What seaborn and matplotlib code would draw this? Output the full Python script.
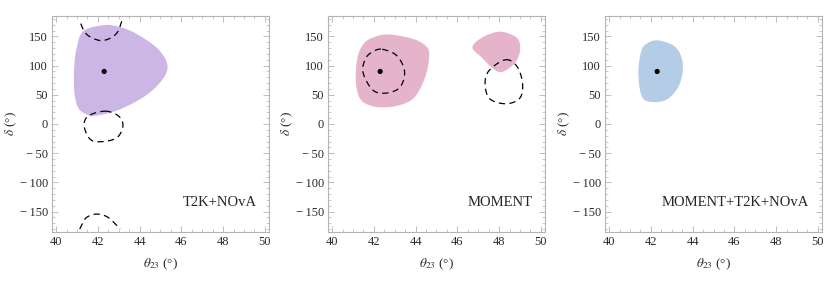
import numpy as np
import seaborn as sns
import matplotlib.pyplot as plt
from matplotlib.ticker import MultipleLocator, FixedLocator

# --- data (theta23 in deg, delta in deg) ---
best_fit_x = [42.3]
best_fit_y = [90]

# T2K+NOvA allowed region (filled) and the dashed contours
t2k_fill_x = [42.2, 41.3, 40.98, 40.86, 40.87, 41.05, 41.4, 41.85, 43.05, 44.49, 45.32, 44.97, 43.85, 42.9]
t2k_fill_y = [169, 159, 130, 95, 55, 28, 17.5, 14, 25, 54, 92, 125, 154.5, 167.5]
t2k_top_x = [41.18, 41.3, 41.55, 42.1, 42.6, 42.95, 43.14]
t2k_top_y = [172, 162, 151, 143, 147, 158, 176]
t2k_mid_x = [42.35, 42.99, 43.2, 42.91, 42.19, 41.63, 41.34, 41.55]
t2k_mid_y = [22, 13.7, -3.4, -23.4, -30.3, -26.2, -3, 14]
t2k_bot_x = [41.13, 41.3, 41.5, 41.85, 42.25, 42.6, 43.07]
t2k_bot_y = [-180, -167, -159, -154.5, -156, -163, -180]

# MOMENT
mom_fill1_x = [42.7, 43.85, 44.45, 44.65, 44.5, 44.0, 43.3, 42.35, 41.6, 41.25, 41.13, 41.22, 41.5, 41.95]
mom_fill1_y = [153.5, 146, 135, 120, 85, 48, 33, 28.5, 35, 50, 80, 115, 137, 148]
mom_fill2_x = [48.13, 48.85, 49.01, 48.77, 48.13, 47.66, 47.18, 46.73, 46.94, 47.5]
mom_fill2_y = [158, 147.7, 127.8, 105, 89, 96.4, 113.5, 129.5, 142, 153.5]
mom_dash1_x = [42.4, 43.1, 43.47, 43.25, 42.6, 41.95, 41.48, 41.6, 41.95]
mom_dash1_y = [128, 117, 90, 63, 53, 58, 88, 112, 124]
mom_dash2_x = [48.3, 48.85, 49.12, 49.01, 48.37, 47.58, 47.33, 47.5]
mom_dash2_y = [110, 99, 70.7, 45, 34.7, 42.3, 66, 90.7]

# MOMENT+T2K+NOvA
comb_fill_x = [42.4, 43.21, 43.53, 43.37, 42.85, 42.2, 41.6, 41.4, 41.54, 41.86]
comb_fill_y = [143, 130.6, 102, 68, 44, 37.6, 45, 85, 125, 139]

panel_labels = ["T2K+NOvA", "MOMENT", "MOMENT+T2K+NOvA"]
fill_colors = ["#CBB6E5", "#E5B4CB", "#B4CCE6"]

x_ticks = [40, 42, 44, 46, 48, 50]
y_ticks = [150, 100, 50, 0, -50, -100, -150]


def spline(x, y, closed=True, n=30):
    # catmull-rom through the read points, so the contours look smooth
    p = np.column_stack([x, y]).astype(float)
    if closed:
        p = np.vstack([p[-1], p, p[0], p[1]])
    else:
        p = np.vstack([p[0], p, p[-1]])
    t = np.linspace(0, 1, n, endpoint=False)[:, None]
    out = []
    for i in range(1, len(p) - 2):
        p0, p1, p2, p3 = p[i - 1], p[i], p[i + 1], p[i + 2]
        out.append(0.5 * (2 * p1 + (-p0 + p2) * t
                          + (2 * p0 - 5 * p1 + 4 * p2 - p3) * t ** 2
                          + (-p0 + 3 * p1 - 3 * p2 + p3) * t ** 3))
    out = np.vstack(out)
    out = np.vstack([out, p[-2]]) if not closed else np.vstack([out, out[0]])
    return out[:, 0], out[:, 1]


sns.set_theme(style="ticks")
plt.rcParams["font.family"] = ["Liberation Serif", "DejaVu Serif"]
plt.rcParams["mathtext.fontset"] = "stix"

fig = plt.figure(figsize=(8.3, 2.85), dpi=100)
lefts = [52, 328, 605]
axes = [fig.add_axes([l / 830, 53 / 285, 217 / 830, 216 / 285]) for l in lefts]

dash = (0, (5, 3.5))
frame_col = "#B4B4B4"


def dashed(ax, x, y, closed=True):
    sx, sy = spline(x, y, closed)
    sns.lineplot(x=sx, y=sy, sort=False, estimator=None, ax=ax,
                 color="black", lw=0.9, linestyle=dash)


# panel 1
ax = axes[0]
fx, fy = spline(t2k_fill_x, t2k_fill_y)
ax.fill(fx, fy, color=fill_colors[0], lw=0)
dashed(ax, t2k_top_x, t2k_top_y, closed=False)
dashed(ax, t2k_mid_x, t2k_mid_y)
dashed(ax, t2k_bot_x, t2k_bot_y, closed=False)

# panel 2
ax = axes[1]
for xs, ys in [(mom_fill1_x, mom_fill1_y), (mom_fill2_x, mom_fill2_y)]:
    fx, fy = spline(xs, ys)
    ax.fill(fx, fy, color=fill_colors[1], lw=0)
dashed(ax, mom_dash1_x, mom_dash1_y)
dashed(ax, mom_dash2_x, mom_dash2_y)

# panel 3
ax = axes[2]
fx, fy = spline(comb_fill_x, comb_fill_y)
ax.fill(fx, fy, color=fill_colors[2], lw=0)

for ax, lab in zip(axes, panel_labels):
    sns.scatterplot(x=best_fit_x, y=best_fit_y, ax=ax, color="black", s=14,
                    edgecolor="none", zorder=5)
    ax.text(49.6, -135, lab, ha="right", va="center", fontsize=10.5)
    ax.set_xlim(39.8, 50.2)
    ax.set_ylim(-185, 185)
    ax.xaxis.set_major_locator(FixedLocator(x_ticks))
    ax.xaxis.set_minor_locator(MultipleLocator(0.5))
    ax.yaxis.set_major_locator(FixedLocator(y_ticks))
    ax.yaxis.set_minor_locator(MultipleLocator(10))
    ax.set_xticklabels([str(v) for v in x_ticks])
    ax.set_yticklabels([str(v).replace("-", "\u2212\u2009") for v in y_ticks])
    ax.tick_params(which="both", direction="in", top=True, right=True,
                   color=frame_col, labelsize=9, labelcolor="#2a2a2a", pad=3)
    ax.tick_params(which="major", length=4, width=0.6)
    ax.tick_params(which="minor", length=2, width=0.5)
    for sp in ax.spines.values():
        sp.set_color(frame_col)
        sp.set_linewidth(0.8)
    ax.set_xlabel(r"$\theta_{23}$ (°)", fontsize=9.5, color="#2a2a2a", labelpad=6)
    ax.set_ylabel(r"$\delta$ (°)", fontsize=9.5, color="#2a2a2a", labelpad=0.5)

fig.savefig("out.png", dpi=100)
